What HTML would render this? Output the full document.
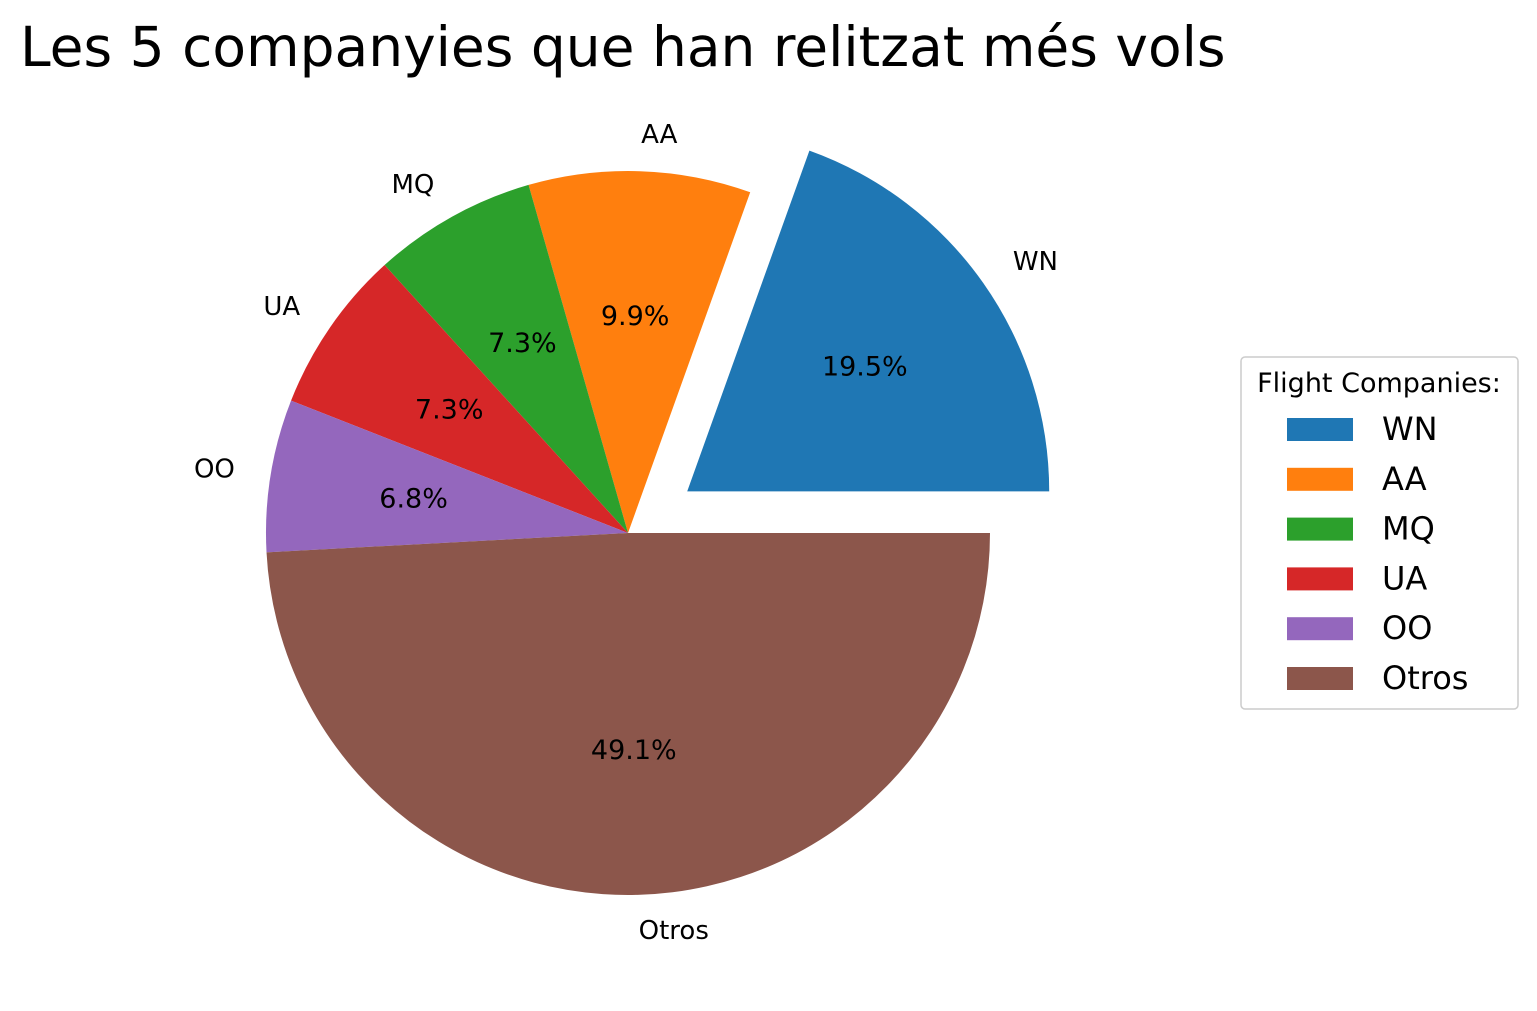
<!DOCTYPE html>
<html><head><meta charset="utf-8"><style>
body{margin:0;background:#fff}
svg text{font-family:"DejaVu Sans","Liberation Sans",sans-serif}
</style></head><body>
<svg id="chart" width="1537" height="1006" viewBox="0 0 1537 1006">
<rect width="1537" height="1006" fill="#fff"/>
<text x="20" y="66" font-size="55" fill="#000">Les 5 companyies que han relitzat més vols</text>
<g id="pie"></g>
<g id="legend">
<rect x="1241" y="357" width="277" height="352" rx="4" fill="#fff" stroke="#ccc" stroke-width="1.5"/>
<text x="1379" y="392" font-size="27" text-anchor="middle" fill="#000">Flight Companies:</text>
</g>
</svg>
<script>
const categories = ["WN","AA","MQ","UA","OO","Otros"];
const values = [19.5, 9.9, 7.3, 7.3, 6.8, 49.1];
const explode = [0.2, 0, 0, 0, 0, 0];
const colors = ["#1f77b4","#ff7f0e","#2ca02c","#d62728","#9467bd","#8c564b"];
const NS="http://www.w3.org/2000/svg";
const cx=628, cy=533, R=362;
const total=values.reduce((a,b)=>a+b,0);
const pie=document.getElementById('pie');
let a0=0;
function mk(tag,attrs){const e=document.createElementNS(NS,tag);for(const k in attrs)e.setAttribute(k,attrs[k]);return e;}
categories.forEach((c,i)=>{
  const frac=values[i]/total;
  const a1=a0+frac*2*Math.PI;
  const mid=(a0+a1)/2;
  const ox=cx+explode[i]*R*Math.cos(mid), oy=cy-explode[i]*R*Math.sin(mid);
  const x0=ox+R*Math.cos(a0), y0=oy-R*Math.sin(a0);
  const x1=ox+R*Math.cos(a1), y1=oy-R*Math.sin(a1);
  const large=(a1-a0)>Math.PI?1:0;
  const p=mk('path',{d:`M${ox},${oy} L${x0},${y0} A${R},${R} 0 ${large} 0 ${x1},${y1} Z`,fill:colors[i]});
  
  
  pie.appendChild(p);
  const lx=ox+1.1*R*Math.cos(mid), ly=oy-1.1*R*Math.sin(mid);
  const t=mk('text',{x:lx,y:ly+8,'font-size':26,'text-anchor':Math.cos(mid)>=0?'start':'end',fill:'#000'});
  t.textContent=c;
  
  
  pie.appendChild(t);
  const px=ox+0.6*R*Math.cos(mid), py=oy-0.6*R*Math.sin(mid);
  const pt=mk('text',{x:px,y:py+9,'font-size':27,'text-anchor':'middle',fill:'#000'});
  pt.textContent=values[i].toFixed(1)+'%';
  
  
  pie.appendChild(pt);
  a0=a1;
});
const lg=document.getElementById('legend');
categories.forEach((c,i)=>{
  const y=429+i*49.8;
  const r=mk('rect',{x:1287,y:y-11,width:66,height:23,fill:colors[i]});
  
  
  lg.appendChild(r);
  const t=mk('text',{x:1382,y:y+11,'font-size':32,fill:'#000'});
  t.textContent=c;
  
  
  lg.appendChild(t);
});
</script>
</body></html>
